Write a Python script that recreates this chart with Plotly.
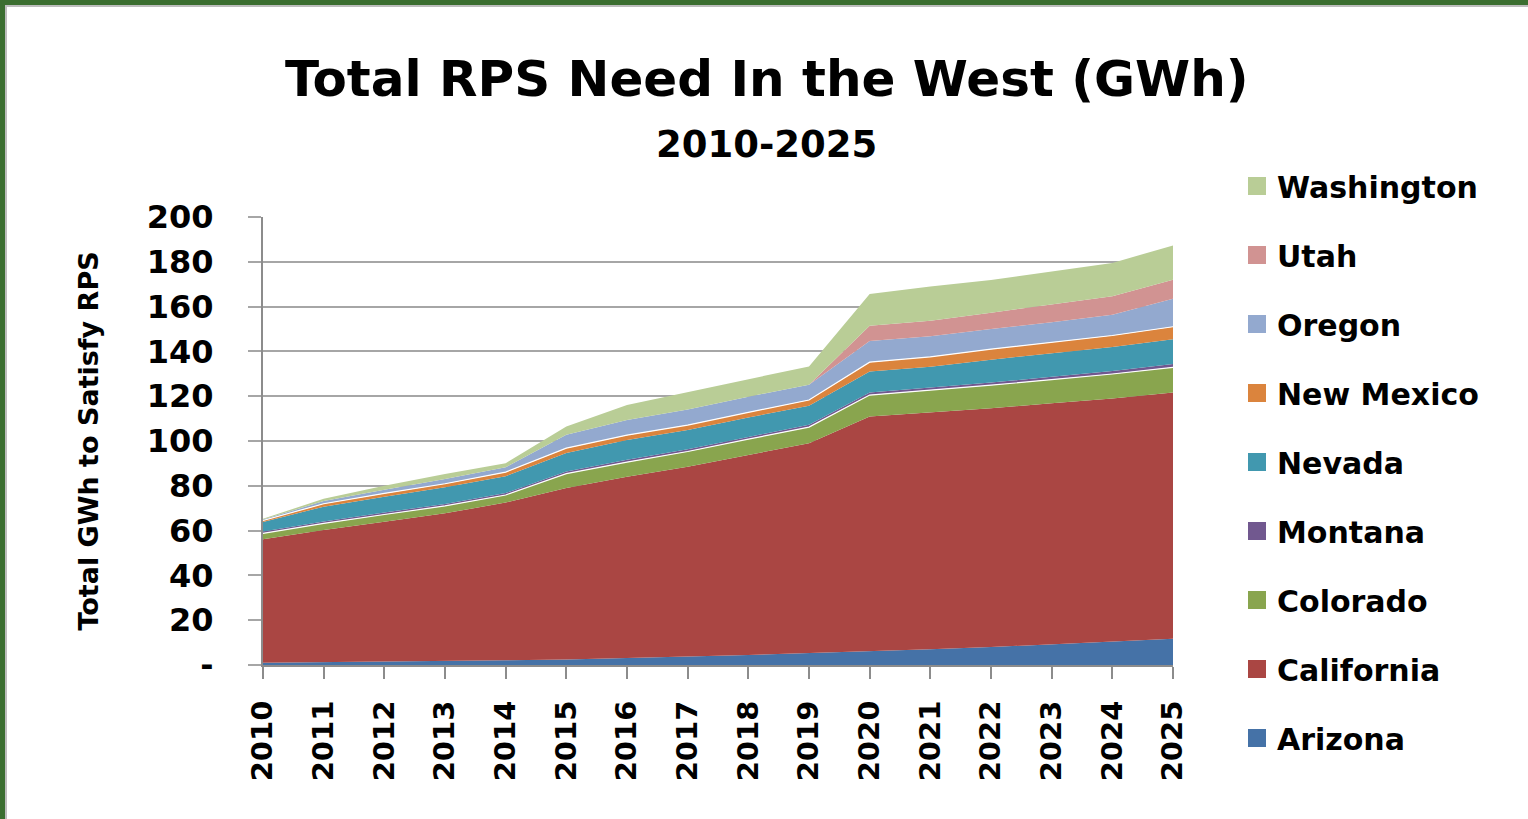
import plotly.graph_objects as go

years = list(range(2010, 2026))
states = ["Arizona", "California", "Colorado", "Montana", "Nevada",
          "New Mexico", "Oregon", "Utah", "Washington"]
arizona    = [1.0, 1.2, 1.5, 1.8, 2.1, 2.5, 3.0, 3.8, 4.5, 5.3, 6.0, 7.0, 8.0, 9.2, 10.4, 11.7]
california = [55.1, 59.1, 62.5, 65.9, 70.4, 76.5, 81.0, 84.7, 89.3, 93.7, 104.9, 105.6, 106.6, 107.6, 108.6, 110.0]
colorado   = [2.7, 2.9, 3.2, 3.3, 3.4, 6.4, 6.6, 6.8, 7.0, 7.2, 9.6, 10.0, 10.3, 10.6, 10.9, 11.2]
montana    = [0.8, 0.9, 0.9, 0.9, 0.9, 1.0, 1.0, 1.0, 1.0, 1.0, 1.1, 1.1, 1.2, 1.3, 1.4, 1.5]
nevada     = [4.2, 6.6, 7.0, 7.4, 7.5, 8.2, 8.9, 8.6, 8.7, 8.5, 9.4, 9.5, 10.2, 10.4, 10.7, 11.0]
new_mexico = [0.7, 1.3, 1.5, 1.6, 1.8, 2.2, 2.1, 2.2, 2.3, 2.6, 4.2, 4.4, 4.7, 4.9, 5.1, 5.6]
oregon     = [0.4, 1.2, 1.6, 2.1, 2.2, 6.0, 6.8, 7.0, 7.0, 6.8, 9.4, 9.2, 9.0, 9.0, 9.3, 12.5]
utah       = [0.0, 0.0, 0.0, 0.0, 0.0, 0.0, 0.0, 0.0, 0.0, 0.0, 6.8, 6.9, 7.3, 7.8, 8.2, 8.5]
washington = [0.4, 1.0, 1.8, 2.3, 1.8, 3.7, 6.7, 7.8, 7.9, 8.2, 14.2, 15.3, 14.6, 14.9, 14.9, 15.3]

y_tickvals = [0, 20, 40, 60, 80, 100, 120, 140, 160, 180, 200]
y_ticktext = ["-", "20", "40", "60", "80", "100", "120", "140", "160", "180", "200"]

series = [arizona, california, colorado, montana, nevada, new_mexico, oregon, utah, washington]
colors = ["#4572A7", "#AA4643", "#89A54E", "#71588F", "#4198AF",
          "#DB843D", "#93A9CF", "#D19392", "#B9CD96"]
white_top = {"Colorado", "New Mexico"}

FONT = "DejaVu Sans"

fig = go.Figure()
for name, vals, col in zip(states, series, colors):
    fig.add_trace(go.Scatter(
        x=years, y=vals, name=name, stackgroup="one", mode="lines",
        line=dict(color="white" if name in white_top else col,
                  width=1.2 if name in white_top else 0),
        fillcolor=col, showlegend=False, hoverinfo="x+y+name"))

# legend entries (square swatches), Washington on top
for name, col in reversed(list(zip(states, colors))):
    fig.add_trace(go.Scatter(
        x=[None], y=[None], name=name, mode="markers",
        marker=dict(symbol="square", size=16, color=col,
                    line=dict(color=col, width=2)),
        legendgroup=name, showlegend=True))

# paper coordinate helpers
L, R, T, B = 263, 1173, 217, 665
W, H = 1528, 819
def px(x): return (x - L) / (R - L)
def py(y): return (B - y) / (B - T)

fig.update_layout(
    width=W, height=H,
    margin=dict(l=L, r=W - R, t=T, b=H - B, pad=0),
    paper_bgcolor="white", plot_bgcolor="white",
    font=dict(family=FONT, color="black"),
    showlegend=True,
    legend=dict(x=px(1237), xanchor="left", y=py(160), yanchor="top",
                traceorder="grouped", tracegroupgap=27, maxheight=780,
                font=dict(family=FONT, size=30, color="black", weight="bold"),
                bgcolor="rgba(0,0,0,0)"),
    xaxis=dict(range=[2010, 2025], tickmode="array", tickvals=years,
               ticktext=[str(y) for y in years], tickangle=-90,
               tickfont=dict(family=FONT, size=29, color="black", weight="bold"),
               showgrid=False, zeroline=False, showline=True, linecolor="#8C8C8C",
               linewidth=2, ticks="outside", ticklen=12, tickcolor="#8C8C8C",
               tickwidth=2, ticklabelstandoff=10, fixedrange=True),
    yaxis=dict(range=[0, 200], tickmode="array", tickvals=y_tickvals,
               ticktext=y_ticktext,
               tickfont=dict(family=FONT, size=32, color="black", weight="bold"),
               showgrid=True, gridcolor="#A6A6A6", gridwidth=2, zeroline=False,
               showline=True, linecolor="#8C8C8C", linewidth=2,
               ticks="outside", ticklen=13, tickcolor="#A6A6A6", tickwidth=2,
               ticklabelstandoff=28,
               title=dict(text="Total GWh to Satisfy RPS",
                          font=dict(family=FONT, size=27, color="black", weight="bold"),
                          standoff=40),
               fixedrange=True),
    annotations=[
        dict(text="<b>Total RPS Need In the West (GWh)</b>", xref="paper", yref="paper",
             x=px(767), y=py(79), xanchor="center", yanchor="middle", showarrow=False,
             font=dict(family=FONT, size=50, color="black")),
        dict(text="<b>2010-2025</b>", xref="paper", yref="paper",
             x=px(766), y=py(144), xanchor="center", yanchor="middle", showarrow=False,
             font=dict(family=FONT, size=37, color="black")),
    ],
    shapes=[
        dict(type="line", xref="paper", yref="paper", x0=px(0), x1=px(W),
             y0=py(2.5), y1=py(2.5), line=dict(color="#3B6E30", width=5), layer="above"),
        dict(type="line", xref="paper", yref="paper", x0=px(2.5), x1=px(2.5),
             y0=py(0), y1=py(H), line=dict(color="#3B6E30", width=5), layer="above"),
        dict(type="line", xref="paper", yref="paper", x0=px(5), x1=px(W),
             y0=py(6), y1=py(6), line=dict(color="#BDBDBD", width=2), layer="above"),
        dict(type="line", xref="paper", yref="paper", x0=px(6), x1=px(6),
             y0=py(5), y1=py(H), line=dict(color="#BDBDBD", width=2), layer="above"),
    ],
)

fig.write_html("out.html", config={"displayModeBar": False},
               post_script="document.body.style.margin='0';document.body.style.overflow='hidden';")
